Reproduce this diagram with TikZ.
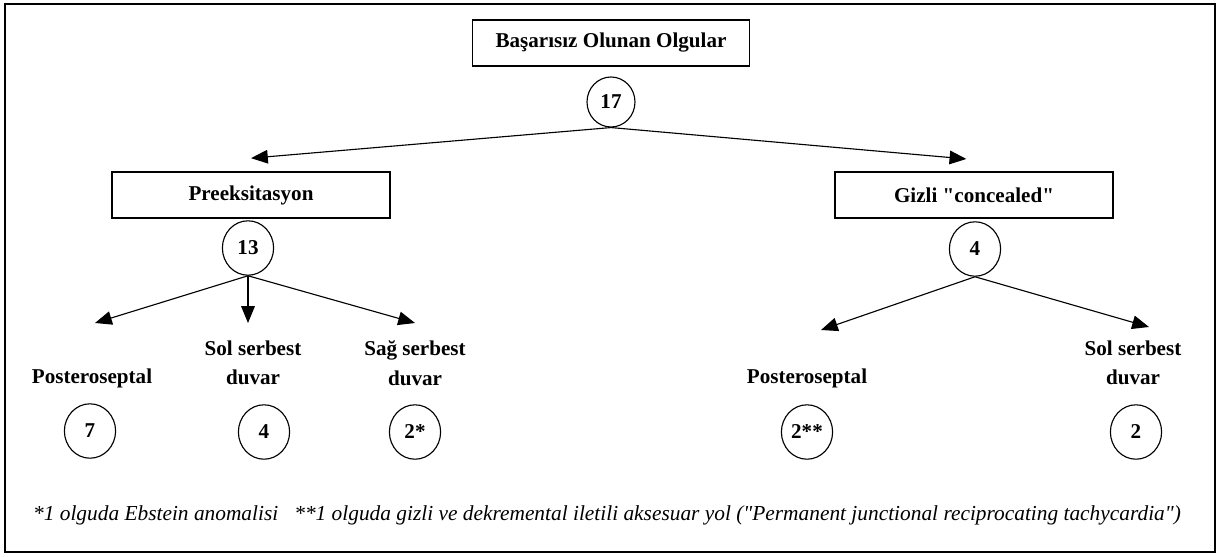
\documentclass[tikz,border=0pt]{standalone}
\usepackage{fontspec}
\setmainfont{Liberation Serif}
\usetikzlibrary{positioning,shapes.geometric,arrows.meta}

\begin{document}
\begin{tikzpicture}[
    font=\fontsize{15}{21}\selectfont\bfseries,
    grupbox/.style={draw,line width=0.9pt,minimum width=6.95cm,minimum height=1.15cm},
    sayi/.style={draw,ellipse,line width=0.8pt,inner sep=0pt,minimum width=1.28cm,minimum height=1.36cm},
    yer/.style={align=center},
    ok/.style={line width=0.8pt,-{Triangle[length=4.2mm,width=3.4mm]}}
  ]
    \useasboundingbox (0,0) rectangle (30.475,13.9);
    \draw[line width=1.2pt] (0.13,0.1) rectangle (30.375,13.8);
    % ust kisim
    \node[grupbox,minimum width=6.925cm] (basarisiz) at (15.275,12.825) {Başarısız Olunan Olgular};
    \node[sayi,minimum width=1.2cm,minimum height=1.25cm] (n17) at (15.275,11.35) {17};
    \node[grupbox] (preeks) at (6.275,9.025) {Preeksitasyon};
    \node[grupbox] (gizli) at (24.35,9.025) {Gizli \textquotedbl concealed\textquotedbl};
    \coordinate[above=3.3mm of preeks] (preeksUc);
    \coordinate[above=3.1mm of gizli.north west,xshift=3.3cm] (gizliUc);
    \draw[ok] (n17.south) -- (preeksUc);
    \draw[ok] (n17.south) -- (gizliUc);
    \node[sayi] (n13) at (6.2,7.7) {13};
    \node[sayi] (n4) at (24.375,7.675) {4};
    % alt kisim
    \node[yer] (psLeft) at (2.3,4.45) {Posteroseptal};
    \node[yer] (solLeft) at (6.325,4.825) {Sol serbest\\duvar};
    \node[yer] (sagLeft) at (10.375,4.825) {Sağ serbest\\duvar};
    \node[yer] (psRight) at (20.175,4.45) {Posteroseptal};
    \node[yer] (solRight) at (28.325,4.825) {Sol serbest\\duvar};
    \coordinate (psLeftUc) at (2.375,5.825);
    \coordinate (solLeftUc) at (6.2,5.825);
    \coordinate (sagLeftUc) at (10.375,5.825);
    \coordinate (psRightUc) at (20.525,5.65);
    \coordinate (solRightUc) at (28.725,5.725);
    \draw[ok] (n13.south) -- (psLeftUc);
    \draw[ok] (n13.south) -- (solLeftUc);
    \draw[ok] (n13.south) -- (sagLeftUc);
    \draw[ok] (n4.south) -- (psRightUc);
    \draw[ok] (n4.south) -- (solRightUc);
    \node[sayi] (n7) at (2.25,3.125) {7};
    \node[sayi] (n4b) at (6.6,3.1) {4};
    \node[sayi] (n2a) at (10.375,3.1) {2*};
    \node[sayi] (n2b) at (20.175,3.1) {2**};
    \node[sayi] (n2c) at (28.4,3.1) {2};
    % dipnot
    \node[font=\fontsize{15.2}{18}\selectfont\itshape] (dipnot) at (15.175,1.025)
      {*1 olguda Ebstein anomalisi\ \ \ **1 olguda gizli ve dekremental iletili aksesuar yol (\textquotedbl Permanent junctional reciprocating tachycardia\textquotedbl)};
  \end{tikzpicture}
\end{document}
